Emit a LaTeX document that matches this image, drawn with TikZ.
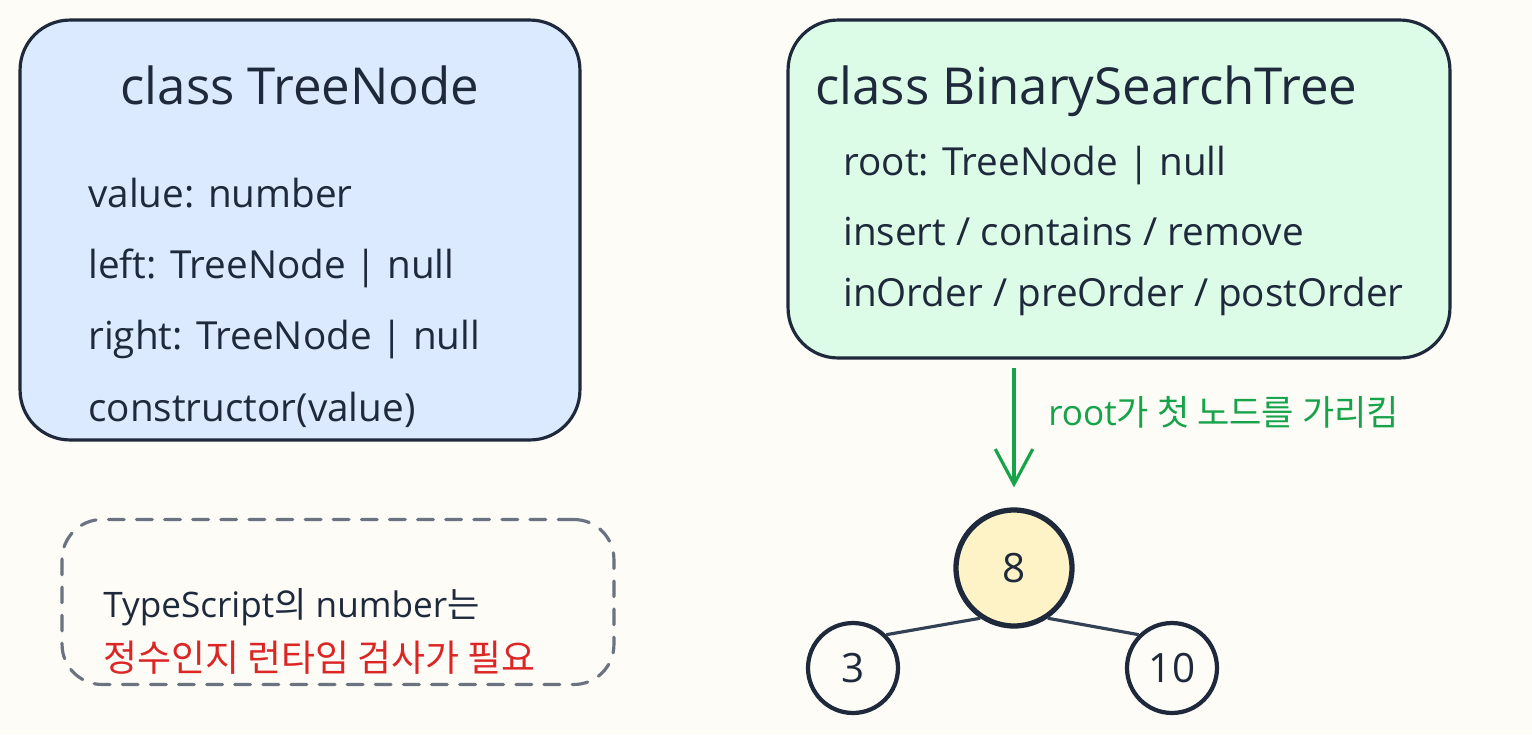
\documentclass[tikz,border=0pt]{standalone}
\usepackage{fontspec}
\setmainfont{Open Sans}
\newfontfamily\kr{Noto Sans CJK KR}
\usetikzlibrary{arrows.meta}
\definecolor{paper}{HTML}{FDFCF7}
\definecolor{ink}{HTML}{1E293B}
\definecolor{edgegray}{HTML}{334155}
\definecolor{dashgray}{HTML}{6B7280}
\definecolor{nodeblue}{HTML}{DBEAFE}
\definecolor{bstgreen}{HTML}{DCFCE7}
\definecolor{rootyellow}{HTML}{FEF3C7}
\definecolor{arrowgreen}{HTML}{16A34A}
\definecolor{warnred}{HTML}{DC2626}

\begin{document}
\begin{tikzpicture}[x=0.02cm,y=-0.02cm]
        \tikzstyle{every node}+=[inner sep=0pt]
        \tikzstyle{classbox}=[draw=ink, line width=1.8pt, rounded corners=1cm]
        \tikzstyle{title}=[anchor=base west, text=ink, font=\fontsize{29}{31}\selectfont]
        \tikzstyle{member}=[anchor=base west, text=ink, font=\fontsize{22}{24}\selectfont]
        \tikzstyle{treenode}=[circle, draw=ink, text=ink, font=\fontsize{23}{25}\selectfont]
        \fill [paper] (0,0) rectangle (1532,734);
        \useasboundingbox (0,0) rectangle (1532,734);
        \node [classbox, fill=nodeblue, minimum width=11.2cm, minimum height=8.4cm] (treebox) at (300,230) {};
        \node [title, anchor=base] (tntitle) at (300,104) {class TreeNode};
        \node [member] (tnvalue) at (88,207) {value: number};
        \node [member] (tnleft) at (88,278) {left: TreeNode | null};
        \node [member] (tnright) at (88,349) {right: TreeNode | null};
        \node [member] (tnctor) at (88,421) {constructor(value)};
        \node [classbox, fill=bstgreen, minimum width=13.24cm, minimum height=6.76cm] (bstbox) at (1119,189) {};
        \node [title] (bsttitle) at (815,104) {class BinarySearchTree};
        \node [member] (bstroot) at (843,175) {root: TreeNode | null};
        \node [member] (bstops) at (843,245) {insert / contains / remove};
        \node [member] (bstwalk) at (843,306) {inOrder / preOrder / postOrder};
        \node [draw=dashgray, line width=1.8pt, dash pattern=on 9pt off 7pt, line cap=round, rounded corners=0.8cm,
               minimum width=11.04cm, minimum height=3.3cm] (notebox) at (338,602) {};
        \node [anchor=base west, text=ink, font=\fontsize{20}{22}\selectfont] (note1) at (103,617) {TypeScript{\kr 의} number{\kr 는}};
        \node [anchor=base west, text=warnred, font=\fontsize{21}{23}\kr] (note2) at (103,671) {정수인지 런타임 검사가 필요};
        \node [treenode, fill=rootyellow, line width=3pt, minimum size=2.32cm] (n8) at (1014,568) {8};
        \node [treenode, fill=paper, line width=2.4pt, minimum size=1.8cm] (n3) at (853,668) {3};
        \node [treenode, fill=paper, line width=2.4pt, minimum size=1.8cm] (n10) at (1172,668) {10};
        \draw [edgegray, line width=1.8pt] (n8.236) -- (n3.45);
        \draw [edgegray, line width=1.8pt] (n8.304) -- (n10.135);
        \draw [arrowgreen, line width=1.8pt, -{Straight Barb[length=0.7cm, width=0.75cm, line width=1.8pt]},
               shorten <=0.16cm, shorten >=0.4cm] (bstbox.south -| n8) -- (n8.north);
        \node [anchor=base west, text=arrowgreen, font=\fontsize{20}{22}\selectfont] (rootlabel) at (1048,425) {root{\kr 가 첫 노드를 가리킴}};
    \end{tikzpicture}
\end{document}
